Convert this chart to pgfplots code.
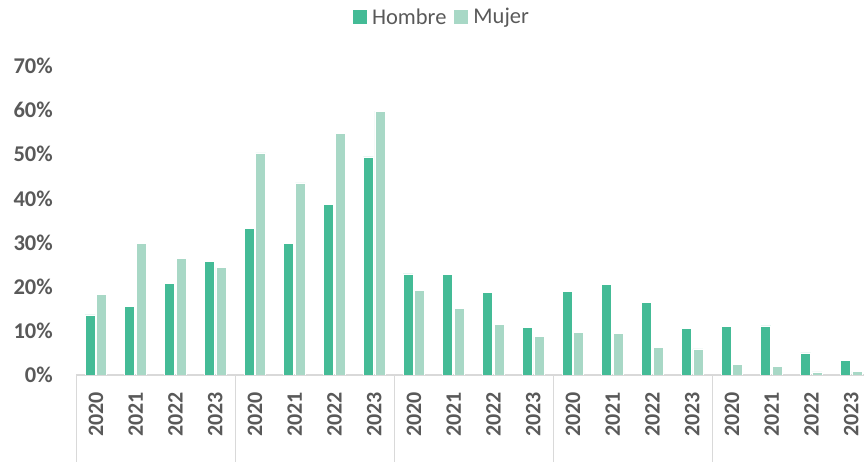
\documentclass[border=0pt]{standalone}
\usepackage{fontspec}
\setmainfont{Carlito}
\usepackage{pgfplots}
\pgfplotsset{compat=1.18}
\definecolor{hombre}{HTML}{44BB96}
\definecolor{mujer}{HTML}{A8D8C6}
\definecolor{txt}{HTML}{595959}
\definecolor{axl}{HTML}{D9D9D9}
\begin{document}
\begin{tikzpicture}
\begin{axis}[
  at={(76pt,87pt)}, anchor=south west,
  scale only axis, width=795pt, height=309pt,
  xmin=-0.5, xmax=19.5, ymin=0, ymax=70,
  ybar=1.6pt, bar width=10pt,
  axis lines*=left,
  x axis line style={draw=axl, line width=1.3pt},
  y axis line style={draw=none},
  xtick={0,...,19},
  xticklabels={2020,2021,2022,2023,2020,2021,2022,2023,2020,2021,2022,2023,2020,2021,2022,2023,2020,2021,2022,2023},
  minor xtick={-0.5,3.5,7.5,11.5,15.5,19.5},
  ytick={0,10,...,70},
  yticklabels={0\%,10\%,20\%,30\%,40\%,50\%,60\%,70\%},
  tick align=outside,
  major tick length=0pt,
  minor tick length=87pt,
  minor x tick style={draw=axl, line width=1pt},
  xticklabel style={rotate=90, anchor=east, inner sep=0pt, font=\fontsize{22}{24}\selectfont\bfseries, text=txt},
  xticklabel shift=17pt,
  yticklabel style={anchor=east, inner sep=0pt, font=\fontsize{22.5}{24}\selectfont\bfseries, text=txt},
  yticklabel shift=23pt,
  legend columns=2,
  legend style={at={(0.4604,1.1586)}, anchor=center, draw=none, fill=none,
    font=\fontsize{22.5}{24}\selectfont, text=txt,
    /tikz/every even column/.append style={column sep=6pt}},
  legend image code/.code={\fill[#1,draw=none] (0pt,-7pt) rectangle (14pt,7pt);\path[draw=none,fill=none] (0pt,0pt) -- (17pt,0pt);},
]
\addplot[fill=hombre, draw=white, line width=0.8pt] coordinates {
(0,13.6) (1,15.6) (2,20.8) (3,25.8)
(4,33.2) (5,29.7) (6,38.7) (7,49.4)
(8,22.9) (9,22.7) (10,18.6) (11,10.8)
(12,18.9) (13,20.5) (14,16.5) (15,10.6)
(16,11.0) (17,11.1) (18,5.0) (19,3.2)};
\addlegendentry{Hombre}
\addplot[fill=mujer, draw=white, line width=0.8pt] coordinates {
(0,18.3) (1,29.9) (2,26.5) (3,24.4)
(4,50.3) (5,43.5) (6,54.7) (7,59.8)
(8,19.2) (9,15.1) (10,11.4) (11,8.7)
(12,9.6) (13,9.5) (14,6.3) (15,5.9)
(16,2.3) (17,1.9) (18,0.7) (19,0.8)};
\addlegendentry{Mujer}
\end{axis}
\pgfresetboundingbox
\path (0,0) rectangle (864pt,462pt);
\end{tikzpicture}
\end{document}
